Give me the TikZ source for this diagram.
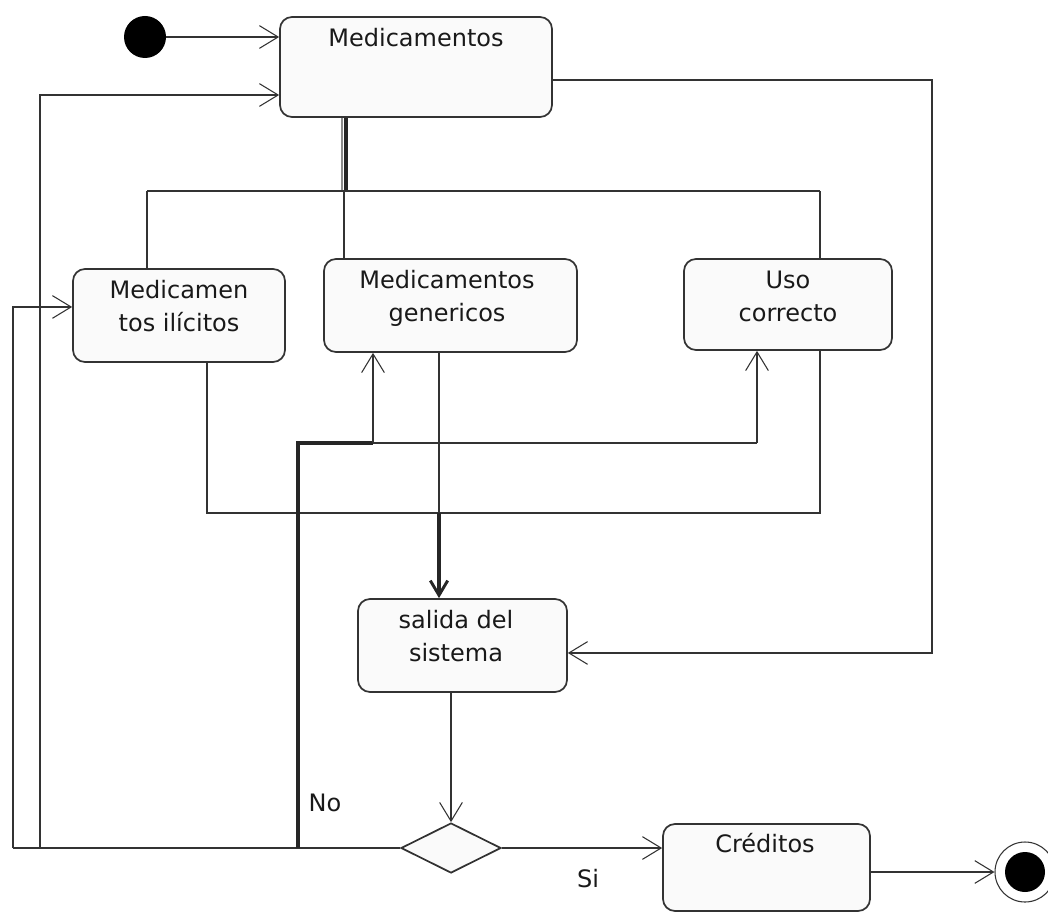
\documentclass[tikz,border=0pt]{standalone}
\usepackage{fontspec}
\setmainfont{DejaVu Sans}
\usetikzlibrary{arrows.meta,shapes.geometric}

\begin{document}
\begin{tikzpicture}[x=0.75pt,y=-0.75pt,
  state/.style={draw=black!80, fill=black!2, rounded corners=9pt, line width=1.3pt, inner sep=0pt},
  txt/.style={font=\fontsize{18}{24.75}\selectfont, align=center, inner sep=0pt, text=black!90},
  conn/.style={draw=black!80, line width=1.3pt},
  arr/.style={conn, -{Straight Barb[length=14pt,width=17pt,line width=0.8pt]}},
  heavy/.style={draw=black!85, line width=3pt},
  heavyarr/.style={heavy, -{Straight Barb[length=11pt,width=13pt,line width=2.2pt]}},
  choice/.style={diamond, draw=black!80, fill=black!2, line width=1.3pt, inner sep=0pt,
                 minimum width=75pt, minimum height=37.5pt},
]
\useasboundingbox (0,0) rectangle (1048,913);

% states
\node[state, minimum width=204pt, minimum height=75pt] (med) at (416,67) {};
\node[state, minimum width=159pt, minimum height=69.75pt] (ilic) at (179,315.5) {};
\node[state, minimum width=189.75pt, minimum height=69.75pt] (gen) at (450.5,305.5) {};
\node[state, minimum width=156pt, minimum height=68.25pt] (uso) at (788,304.5) {};
\node[state, minimum width=156.75pt, minimum height=69.75pt] (sal) at (462.5,645.5) {};
\node[state, minimum width=155.25pt, minimum height=65.25pt] (cred) at (766.5,867.5) {};
\node[choice] (dia) at (451,848) {};

% initial and final pseudo-states
\node[circle, fill=black, inner sep=0pt, minimum size=31.5pt] (start) at (145,37) {};
\node[circle, draw=black!80, line width=0.8pt, inner sep=0pt, minimum size=45pt] (endO) at (1025,872) {};
\node[circle, fill=black, inner sep=0pt, minimum size=30pt] (endI) at (1025,872) {};

% state names
\node[txt] (medT) at (416,38) {Medicamentos};
\node[txt] (ilicT) at (179,305.6) {Medicamen\\tos ilícitos};
\node[txt] (genT) at (447,298) {Medicamentos\\genericos};
\node[txt] (usoT) at (788,296) {Uso\\correcto};
\node[txt] (salT) at (456,635.6) {salida del\\sistema};
\node[txt] (credT) at (765,843.5) {Créditos};
\node[txt] (noT) at (325,803) {No};
\node[txt] (siT) at (588,879) {Si};

% bend points
\coordinate (jL) at (13,848);
\coordinate (jM) at (40,848);
\coordinate (jN) at (298,848);
\coordinate (jK) at (373,443);
\coordinate (jU) at (757,443);
\coordinate (jS) at (439,513);
\coordinate (jUo) at (820,513);
\coordinate (fL) at (147,191);
\coordinate (fM) at (344,191);
\coordinate (fR) at (820,191);
\coordinate (jR) at (932,653);

% start
\draw[arr] (start) -- (start -| med.west);

% fork below Medicamentos
\draw[draw=black!45, line width=2pt] ([xshift=-1.5pt]fM |- med.south) -- ([xshift=-1.5pt]fM);
\draw[heavy] ([xshift=1.8pt]fM |- med.south) -- ([xshift=1.8pt]fM);
\draw[conn] (fL) -- (fR);
\draw[conn] (fL) -- (fL |- ilic.north);
\draw[conn] (fM) -- (fM |- gen.north);
\draw[conn] (fR) -- (fR |- uso.north);

% Medicamentos straight to exit
\draw[arr] ([yshift=-9.75pt]med.east) -| (jR) -- ([yshift=-5.6pt]sal.east);

% join into salida del sistema
\draw[conn] ([xshift=21pt]ilic.south) |- (jS);
\draw[conn] (jS |- gen.south) -- (jS);
\draw[conn] (jUo |- uso.south) -- (jUo) -- (jS);
\draw[heavyarr] (jS) -- (jS |- sal.north);

% decision
\draw[arr] (dia.north |- sal.south) -- (dia.north);
\draw[arr] (dia.east) -- (dia.east -| cred.west);
\draw[arr] (cred.east |- endO) -- (endO.west);

% "No" branch back to the states
\draw[conn] (dia.west) -- (jL);
\draw[arr] (jL) |- ([yshift=6.4pt]ilic.west);
\draw[arr] (jM) |- ([yshift=-21pt]med.west);
\draw[heavy] (jN) |- (jK);
\draw[arr] (jK) -- (jK |- gen.south);
\draw[conn] (jK) -- (jU);
\draw[arr] (jU) -- (jU |- uso.south);
\end{tikzpicture}
\end{document}
